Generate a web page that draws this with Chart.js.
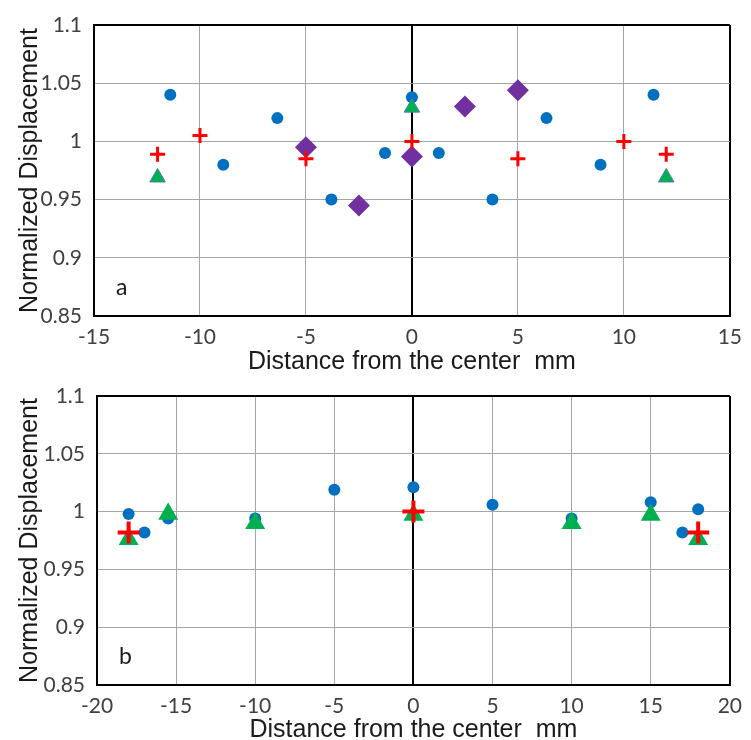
<!DOCTYPE html>
<html>
<head>
<meta charset="utf-8">
<script src="https://cdn.jsdelivr.net/npm/chart.js@4/dist/chart.umd.min.js"></script>
<style>
  html, body { margin: 0; padding: 0; background: #ffffff; overflow: hidden; }
  body { width: 751px; height: 740px; position: relative; }
  .panel { position: absolute; left: 0; width: 751px; height: 380px; }
  #wrapA { top: 0; }
  #wrapB { top: 371px; }
</style>
</head>
<body>
<div class="panel" id="wrapA"><canvas id="chartA" width="751" height="380"></canvas></div>
<div class="panel" id="wrapB"><canvas id="chartB" width="751" height="380"></canvas></div>
<script>
// ---------- Panel a data ----------
const blueA_x   = [-11.4, -8.9, -6.35, -3.8, -1.27, 0, 1.27, 3.8, 6.35, 8.9, 11.4];
const blueA_y   = [1.04, 0.98, 1.02, 0.95, 0.99, 1.038, 0.99, 0.95, 1.02, 0.98, 1.04];
const redA_x    = [-12, -10, -5, 0, 5, 10, 12];
const redA_y    = [0.989, 1.005, 0.985, 1.0, 0.985, 1.0, 0.989];
const greenA_x  = [-12, 0, 12];
const greenA_y  = [0.969, 1.029, 0.969];
const purpleA_x = [-5, -2.5, 0, 2.5, 5];
const purpleA_y = [0.995, 0.945, 0.987, 1.03, 1.044];

// ---------- Panel b data ----------
const blueB_x  = [-18, -17, -15.5, -10, -5, 0, 5, 10, 15, 17, 18];
const blueB_y  = [0.998, 0.982, 0.994, 0.994, 1.019, 1.021, 1.006, 0.994, 1.008, 0.982, 1.002];
const greenB_x = [-18, -15.5, -10, 0, 10, 15, 18];
const greenB_y = [0.976, 0.998, 0.99, 0.997, 0.99, 0.997, 0.976];
const redB_x   = [-18, 0, 18];
const redB_y   = [0.982, 1.0, 0.982];

// ---------- Tick labels ----------
const yTickLabels  = ['0.85', '0.9', '0.95', '1', '1.05', '1.1'];
const xTickLabelsA = ['-15', '-10', '-5', '0', '5', '10', '15'];
const xTickLabelsB = ['-20', '-15', '-10', '-5', '0', '5', '10', '15', '20'];
const xTitle = 'Distance from the center  mm';
const yTitle = 'Normalized Displacement';

function pts(xs, ys) { return xs.map((x, i) => ({ x: x, y: ys[i] })); }

const TICK_FONT = { family: 'Lato', size: 21 };
const TITLE_FONT = { family: 'Liberation Sans', size: 25 };
const GRID = '#a6a6a6';

function panelLabel(text) {
  return {
    id: 'panelLabel' + text,
    afterDraw(chart) {
      const ca = chart.chartArea;
      const ctx = chart.ctx;
      ctx.save();
      ctx.font = '23px Lato';
      ctx.fillStyle = '#1a1a1a';
      ctx.textAlign = 'left';
      ctx.textBaseline = 'alphabetic';
      ctx.fillText(text, ca.left + 22, ca.bottom - 21);
      ctx.restore();
    }
  };
}

function makeOptions(cfg) {
  return {
    responsive: false,
    animation: false,
    events: [],
    layout: { padding: { left: 0, right: cfg.padRight, top: 25, bottom: 0 } },
    plugins: { legend: { display: false }, tooltip: { enabled: false } },
    scales: {
      x: {
        type: 'linear',
        min: cfg.xMin, max: cfg.xMax,
        afterFit: s => { s.height = cfg.xHeight; },
        afterBuildTicks: s => { s.ticks = cfg.xLabels.map(v => ({ value: Number(v) })); },
        ticks: {
          font: TICK_FONT, color: '#404040', padding: 9, maxRotation: 0, autoSkip: false,
          callback: (v, i) => cfg.xLabels[i]
        },
        grid: {
          drawTicks: false,
          color: c => (c.tick && (c.tick.value === 0 || c.index === 0 || c.index === cfg.xLabels.length - 1)) ? '#000000' : GRID,
          lineWidth: c => (c.tick && (c.tick.value === 0 || c.index === 0 || c.index === cfg.xLabels.length - 1)) ? 2 : 1
        },
        border: { display: true, color: '#000000', width: 2 },
        title: { display: true, text: xTitle, font: TITLE_FONT, color: '#1a1a1a', padding: { top: 0, bottom: cfg.xTitlePad } }
      },
      y: {
        type: 'linear',
        min: 0.85, max: 1.1,
        afterFit: s => { s.width = cfg.yWidth; },
        afterBuildTicks: s => { s.ticks = yTickLabels.map(v => ({ value: Number(v) })); },
        ticks: {
          font: TICK_FONT, color: '#404040', padding: 12,
          callback: (v, i) => yTickLabels[i]
        },
        grid: {
          drawTicks: false,
          color: c => (c.index === 0 || c.index === yTickLabels.length - 1) ? '#000000' : GRID,
          lineWidth: c => (c.index === 0 || c.index === yTickLabels.length - 1) ? 2 : 1
        },
        border: { display: true, color: '#000000', width: 2 },
        title: { display: true, text: yTitle, font: TITLE_FONT, color: '#1a1a1a', padding: { top: 15, bottom: 0 } }
      }
    }
  };
}

new Chart(document.getElementById('chartA'), {
  type: 'scatter',
  data: {
    datasets: [
      { label: 'red', data: pts(redA_x, redA_y), pointStyle: 'cross', pointRadius: 7.5,
        borderColor: '#ff0000', backgroundColor: '#ff0000', pointBorderWidth: 3, order: 0 },
      { label: 'green', data: pts(greenA_x, greenA_y), pointStyle: 'triangle', pointRadius: 9,
        backgroundColor: '#00b050', borderColor: '#4a7ebb', pointBorderWidth: 1, order: 1 },
      { label: 'purple', data: pts(purpleA_x, purpleA_y), pointStyle: 'rectRot', pointRadius: 11,
        backgroundColor: '#7030a0', borderColor: '#7030a0', pointBorderWidth: 0, order: 2 },
      { label: 'blue', data: pts(blueA_x, blueA_y), pointStyle: 'circle', pointRadius: 6,
        backgroundColor: '#0070c0', borderColor: '#0070c0', pointBorderWidth: 0, order: 3 }
    ]
  },
  options: makeOptions({ xMin: -15, xMax: 15, xLabels: xTickLabelsA, padRight: 16, xHeight: 64, yWidth: 94, xTitlePad: 3 }),
  plugins: [panelLabel('a')]
});

new Chart(document.getElementById('chartB'), {
  type: 'scatter',
  data: {
    datasets: [
      { label: 'red', data: pts(redB_x, redB_y), pointStyle: 'cross', pointRadius: 11,
        borderColor: '#ff0000', backgroundColor: '#ff0000', pointBorderWidth: 4, order: 0 },
      { label: 'green', data: pts(greenB_x, greenB_y), pointStyle: 'triangle', pointRadius: 11.5,
        backgroundColor: '#00b050', borderColor: '#00b050', pointBorderWidth: 0, order: 1 },
      { label: 'blue', data: pts(blueB_x, blueB_y), pointStyle: 'circle', pointRadius: 6,
        backgroundColor: '#0070c0', borderColor: '#0070c0', pointBorderWidth: 0, order: 2 }
    ]
  },
  options: makeOptions({ xMin: -20, xMax: 20, xLabels: xTickLabelsB, padRight: 14, xHeight: 66, yWidth: 97, xTitlePad: 6 }),
  plugins: [panelLabel('b')]
});
</script>
</body>
</html>
